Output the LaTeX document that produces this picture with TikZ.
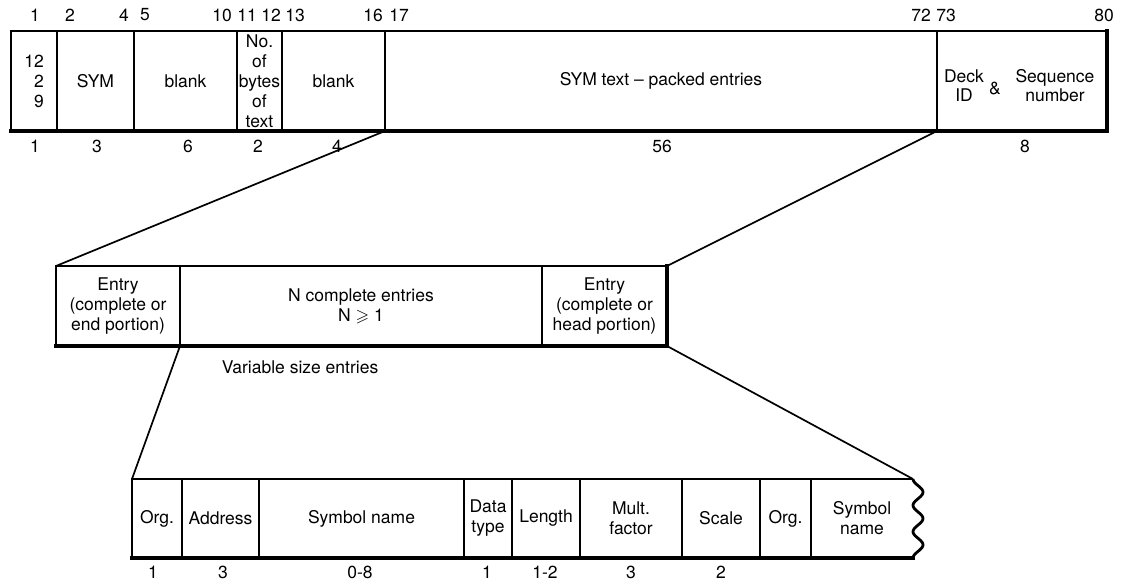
\documentclass[tikz,border=0pt]{standalone}
\usepackage{amssymb}
\usepackage{fontspec}
\setmainfont{TeX Gyre Heros}
\newcommand\fs{\fontsize{17.5}{20}\selectfont}
\newcommand\mycell[7][]{\node[cell,#1,minimum width={(#4-#3)*1pt},minimum height={(#6-#5)*1pt}] (#2) at ({(#3+#4)/2},{(#5+#6)/2}) {#7};}
\begin{document}
\begin{tikzpicture}[x=1pt,y=-1pt,
  cell/.style={draw, line width=1.5pt, inner sep=0pt, outer sep=0pt, align=center, font=\fs},
  lbl/.style={inner sep=0pt, font=\fs},
  link/.style={line width=1.7pt},
  heavy/.style={line width=3.2pt, line cap=rect}]
\useasboundingbox (0,0) rectangle (1128,583);

% ---------- top record ----------
\mycell[align=right]{t1}{11}{57}{31}{131}{12\\2\\9}
\mycell{t2}{57}{134}{31}{131}{SYM}
\mycell{t3}{134}{237}{31}{131}{blank}
\mycell{t4}{237}{282}{31}{131}{No.\\of\\bytes\\of\\text}
\mycell{t5}{282}{385}{31}{131}{blank}
\mycell{t6}{385}{937}{31}{131}{SYM text \textendash\ packed entries}
\mycell{t7}{937}{1107}{31}{131}{}
\node[lbl, align=center, font=\fontsize{17.5}{19}\selectfont] (d1) at (964,86) {Deck\\ID};
\node[lbl] (d2) at (995,88) {\&};
\node[lbl, align=center, font=\fontsize{17.5}{19}\selectfont] (d3) at (1055,86) {Sequence\\number};
\draw[heavy] (t1.south west) -- (t7.south east) -- (t7.north east);

\foreach \n/\x/\t in {a/35/1, b/70/2, c/124/4, d/145/5, e/222/10, f/247/11, g/271/12, h/295/13, i/373/16, j/399/17, k/921/72, l/946/73, m/1104/80}
  \node[lbl] (tn\n) at (\x,15) {\t};
\foreach \n/\x/\t in {a/35/1, b/97/3, c/188/6, d/258/2, e/337/4, f/662/56, g/1025/8}
  \node[lbl] (tb\n) at (\x,146) {\t};

% ---------- middle record ----------
\mycell{m1}{56}{180}{266}{346}{Entry\\(complete or\\end portion)}
\mycell{m2}{180}{542}{266}{346}{N complete entries\\N $\geqslant$ 1}
\mycell{m3}{542}{667}{266}{346}{Entry\\(complete or\\head portion)}
\draw[heavy] (m1.south west) -- (m3.south east) -- (m3.north east);
\node[lbl] (var) at (300,367) {Variable size entries};

% ---------- bottom record ----------
\mycell{b1}{132}{182}{479}{558}{Org.}
\mycell{b2}{182}{259}{479}{558}{Address}
\mycell{b3}{259}{464}{479}{558}{Symbol name}
\mycell{b4}{464}{512}{479}{558}{Data\\type}
\mycell{b5}{512}{580}{479}{558}{Length}
\mycell{b6}{580}{682}{479}{558}{Mult.\\factor}
\mycell{b7}{682}{760}{479}{558}{Scale}
\mycell{b8}{760}{811}{479}{558}{Org.}
\node[cell, draw=none, minimum width=102pt, minimum height=79pt] (b9) at (862,518.5) {Symbol\\name};
\draw[line width=1.5pt] (b8.north east) -- (b9.north east);
\draw[line width=2.8pt, line join=round] plot[smooth, domain=0:1, samples=61] ({913+5*(1-cos(1080*\x))},{479+79*\x});
\draw[heavy] (b1.south west) -- (b9.south east);

\foreach \n/\x/\t in {a/153/1, b/223/3, c/360/0-8, d/487/1, e/545/1-2, f/631/3, g/721/2}
  \node[lbl] (bn\n) at (\x,572) {\t};

% ---------- expansion lines ----------
\draw[link] (t5.south east) -- (m1.north west);
\draw[link] (t7.south west) -- (m3.north east);
\draw[link] (m1.south east) -- (b1.north west);
\draw[link] (m3.south east) -- (b9.north east);
\end{tikzpicture}
\end{document}
